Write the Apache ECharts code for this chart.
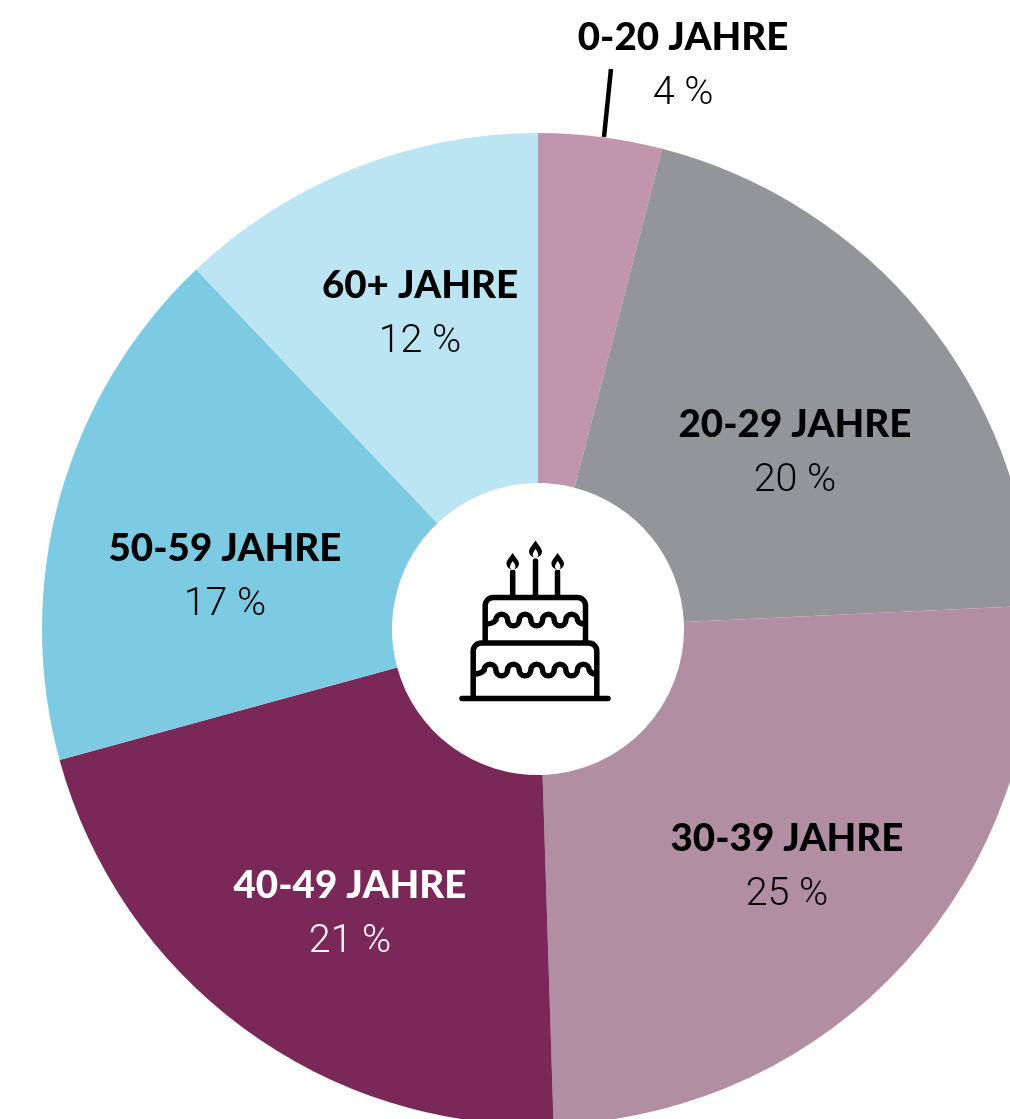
<!DOCTYPE html>
<html lang="de">
<head>
    <meta charset="UTF-8">
    <title>Altersverteilung</title>
    <script src="https://cdn.jsdelivr.net/npm/echarts@6/dist/echarts.min.js"></script>
    <style>
        html, body { margin: 0; padding: 0; background: #fff; }
        #main { width: 1010px; height: 1119px; }
    </style>
</head>
<body>
    <div id="main"></div>
    <script>
        // printed labels
        const groups = ['0-20 JAHRE', '20-29 JAHRE', '30-39 JAHRE', '40-49 JAHRE', '50-59 JAHRE', '60+ JAHRE'];
        const printedShares = [4, 20, 25, 21, 17, 12];
        const drawnShares = [4.03, 20.22, 25.25, 21.25, 17.15, 12.1];
        const sliceColors = ['#c295ae', '#939598', '#b18ea1', '#7a2858', '#7dcae3', '#bbe5f2'];
        const textColors = ['#000', '#000', '#000', '#fff', '#000', '#000'];
        // label centres in pixels
        const labelX = [683, 795, 787, 350, 225, 420];
        const labelY = [67, 454, 868, 915, 578, 315];

        const cakeOutline = 'M462 698.5H608 ' +
            'M473.2 698V651a8 8 0 0 1 8-8H588.8a8 8 0 0 1 8 8V698 ' +
            'M485.2 643V605.5a8 8 0 0 1 8-8H577.5a8 8 0 0 1 8 8V643 ' +
            'M512.7 597V572M535.5 597V561M557.5 597V572 ' +
            'M486 624Q493 624 495.9 620a5.83 5.83 0 0 1 11.66 0a5.83 5.83 0 0 0 11.66 0a5.83 5.83 0 0 1 11.66 0a5.83 5.83 0 0 0 11.66 0a5.83 5.83 0 0 1 11.66 0a5.83 5.83 0 0 0 11.66 0a5.83 5.83 0 0 1 11.66 0Q579 624 585 624 ' +
            'M474 674Q481 674 484.2 670a5.83 5.83 0 0 1 11.66 0a5.83 5.83 0 0 0 11.66 0a5.83 5.83 0 0 1 11.66 0a5.83 5.83 0 0 0 11.66 0a5.83 5.83 0 0 1 11.66 0a5.83 5.83 0 0 0 11.66 0a5.83 5.83 0 0 1 11.66 0a5.83 5.83 0 0 0 11.66 0a5.83 5.83 0 0 1 11.66 0Q591 674 596 674';
        const cakeFlames = 'M512.7 553C516 558 519 561 519 563.5A6.3 6 0 0 1 506.4 563.5C506.4 561 509 558 512.7 553Z ' +
            'M535.5 540.5C539 545.5 542 549 542 551.5A6.5 6 0 0 1 529 551.5C529 549 532 545.5 535.5 540.5Z ' +
            'M557.7 553C561 558 564 561 564 563.5A6.3 6 0 0 1 551.4 563.5C551.4 561 554 558 557.7 553Z';
        const cakeFlameCores = 'M512.7 561C514.5 563.5 515.5 565 515.5 567.5Q514 570 512.7 570Q511.4 570 510 567.5C510 565 511 563.5 512.7 561Z ' +
            'M535.5 549C537.3 551.5 538.3 553 538.3 555.5Q537 558 535.5 558Q534 558 532.7 555.5C532.7 553 533.7 551.5 535.5 549Z ' +
            'M557.7 561C559.5 563.5 560.5 565 560.5 567.5Q559 570 557.7 570Q556.4 570 555 567.5C555 565 556 563.5 557.7 561Z';
        echarts.graphic.registerShape('cakeOutline', echarts.graphic.extendPath(cakeOutline));
        echarts.graphic.registerShape('cakeFlames', echarts.graphic.extendPath(cakeFlames));
        echarts.graphic.registerShape('cakeFlameCores', echarts.graphic.extendPath(cakeFlameCores));

        const chart = echarts.init(document.getElementById('main'));
        chart.setOption({
            animation: false,
            backgroundColor: '#fff',
            textStyle: { fontFamily: 'Lato' },
            series: [{
                type: 'pie',
                center: [538, 629],
                radius: [146, 496],
                startAngle: 90,
                silent: true,
                data: groups.map(function (name, i) {
                    return {
                        name: name,
                        value: drawnShares[i],
                        itemStyle: { color: sliceColors[i] },
                        label: {
                            rich: {
                                head: { fontFamily: 'Lato', fontSize: 38.5, fontWeight: 900, lineHeight: 55, color: textColors[i], align: 'center' },
                                pct: { fontFamily: 'Roboto', fontSize: 39.5, fontWeight: 300, lineHeight: 59, color: textColors[i], align: 'center' }
                            }
                        }
                    };
                }),
                label: {
                    show: true,
                    position: 'inside',
                    formatter: function (p) {
                        return '{head|' + p.name + '}\n{pct|' + printedShares[p.dataIndex] + ' %}';
                    }
                },
                labelLine: { show: false },
                labelLayout: function (p) {
                    return { x: labelX[p.dataIndex], y: labelY[p.dataIndex], align: 'center', verticalAlign: 'middle' };
                }
            }],
            graphic: [
                { type: 'line', shape: { x1: 611, y1: 69, x2: 604, y2: 137 }, style: { stroke: '#000', lineWidth: 4.5 }, z: 1 },
                { type: 'cakeOutline', style: { fill: null, stroke: '#000', lineWidth: 5.5, lineCap: 'round' }, z: 10 },
                { type: 'cakeFlames', style: { fill: '#000' }, z: 10 },
                { type: 'cakeFlameCores', style: { fill: '#fff' }, z: 11 }
            ]
        });
    </script>
</body>
</html>
